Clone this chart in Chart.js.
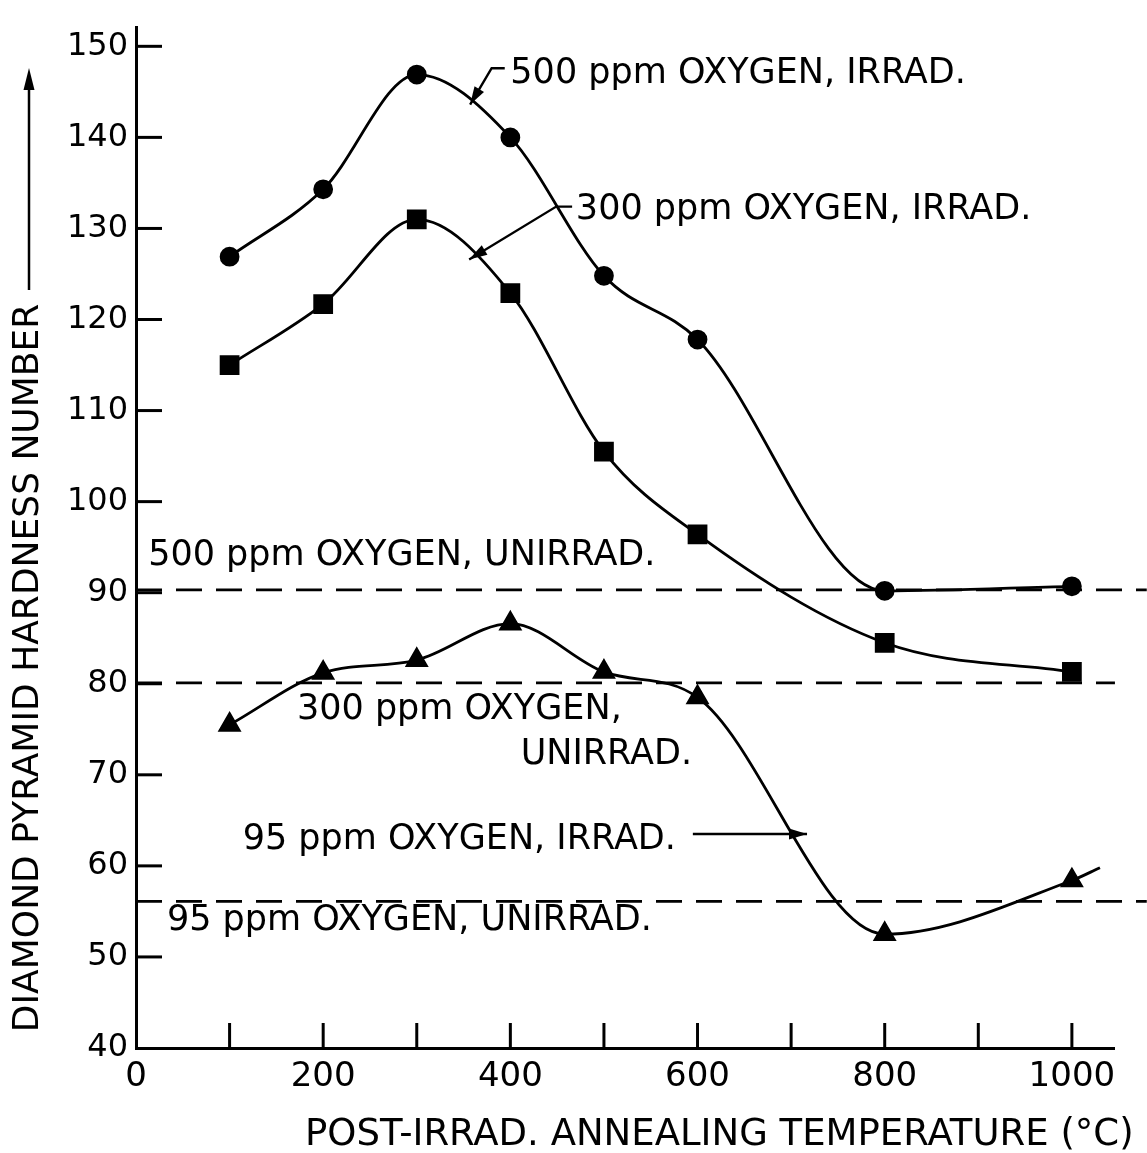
<!DOCTYPE html>
<html>
<head>
<meta charset="utf-8">
<title>Diamond Pyramid Hardness vs Annealing Temperature</title>
<script src="https://cdn.jsdelivr.net/npm/chart.js@4.4.0/dist/chart.umd.min.js"></script>
<style>
    html, body { margin: 0; padding: 0; background: #fff; }
    #wrap { width: 1147px; height: 1153px; position: relative; }
</style>
</head>
<body>
<div id="wrap"><canvas id="hardnessChart"></canvas></div>
<script>

/* =====================================
   DATA
===================================== */

const temps = [100, 200, 300, 400, 500, 600, 800, 1000];

const irrad500 = [126.9, 134.3, 146.9, 140.0, 124.8, 117.8, 90.2, 90.7];
const irrad300 = [115.0, 121.7, 131.0, 122.9, 105.5, 96.4, 84.5, 81.3];
const irrad95  = [75.5, 81.2, 82.6, 86.6, 81.3, 78.5, 52.5, 58.4];

// the 95 ppm curve runs on a little past its last point
const irrad95TailTemp = 1030;
const irrad95TailValue = 59.8;

// unirradiated reference levels (dashed)
const unirradValues = [90.3, 80.1, 56.1];
const unirradEndTemps = [1080, 1046, 1080];

const yTicks = [40, 50, 60, 70, 80, 90, 100, 110, 120, 130, 140, 150];
const xLabelTicks = [0, 200, 400, 600, 800, 1000];

/* =====================================
   ANNOTATIONS (data coordinates)
===================================== */

const notes = [
    { text: "500 ppm OXYGEN, IRRAD.",   x: 400, y: 146.0 },
    { text: "300 ppm OXYGEN, IRRAD.",   x: 470, y: 131.0 },
    { text: "500 ppm OXYGEN, UNIRRAD.", x: 13,  y: 93.0 },
    { text: "300 ppm OXYGEN,",          x: 172, y: 76.1 },
    { text: "UNIRRAD.",                 x: 411, y: 71.2 },
    { text: "95 ppm OXYGEN, IRRAD.",    x: 114, y: 61.9 },
    { text: "95 ppm OXYGEN, UNIRRAD.",  x: 33,  y: 53.0 }
];

const leaders = [
    [[394, 147.6], [380, 147.6], [357, 143.6]],
    [[466, 132.4], [449, 132.4], [356, 126.6]],
    [[595, 63.5], [717, 63.5]]
];

const FONT = "'DejaVu Sans', 'Liberation Sans', sans-serif";

/* =====================================
   EXTRA DRAWING
===================================== */

function arrowHead(ctx, from, to, len, half){

    const a = Math.atan2(to[1] - from[1], to[0] - from[0]);

    ctx.beginPath();
    ctx.moveTo(to[0], to[1]);
    ctx.lineTo(
        to[0] - len * Math.cos(a) + half * Math.sin(a),
        to[1] - len * Math.sin(a) - half * Math.cos(a)
    );
    ctx.lineTo(
        to[0] - len * Math.cos(a) - half * Math.sin(a),
        to[1] - len * Math.sin(a) + half * Math.cos(a)
    );
    ctx.closePath();
    ctx.fill();
}

const extras = {

    id: "extras",

    afterDatasetsDraw(chart){

        const ctx = chart.ctx;
        const xs = chart.scales.x;
        const ys = chart.scales.y;

        ctx.save();
        ctx.strokeStyle = "#000";
        ctx.fillStyle = "#000";
        ctx.lineWidth = 3;

        // inward tick marks
        xs.ticks.forEach(t => {
            if(t.value <= 0) return;
            const px = xs.getPixelForValue(t.value);
            ctx.beginPath();
            ctx.moveTo(px, ys.bottom);
            ctx.lineTo(px, ys.bottom - 25);
            ctx.stroke();
        });

        ys.ticks.forEach(t => {
            if(t.value <= 40) return;
            const py = ys.getPixelForValue(t.value);
            ctx.beginPath();
            ctx.moveTo(xs.left, py);
            ctx.lineTo(xs.left + 26, py);
            ctx.stroke();
        });

        // curve labels
        ctx.font = "35px " + FONT;
        ctx.textAlign = "left";
        ctx.textBaseline = "alphabetic";

        notes.forEach(n => {
            ctx.fillText(
                n.text,
                xs.getPixelForValue(n.x),
                ys.getPixelForValue(n.y)
            );
        });

        // leader lines with arrows
        ctx.lineWidth = 2.4;

        leaders.forEach(pts => {
            const p = pts.map(q => [xs.getPixelForValue(q[0]), ys.getPixelForValue(q[1])]);
            ctx.beginPath();
            ctx.moveTo(p[0][0], p[0][1]);
            for(let i = 1; i < p.length; i++){
                ctx.lineTo(p[i][0], p[i][1]);
            }
            ctx.stroke();
            arrowHead(ctx, p[p.length - 2], p[p.length - 1], 18, 5.5);
        });

        // axis titles
        ctx.font = "37px " + FONT;
        ctx.fillText("POST-IRRAD. ANNEALING TEMPERATURE (\u00B0C)", 305, 1145);

        ctx.save();
        ctx.translate(29, 668);
        ctx.rotate(-Math.PI / 2);
        ctx.font = "36px " + FONT;
        ctx.textAlign = "center";
        ctx.textBaseline = "middle";
        ctx.fillText("DIAMOND PYRAMID HARDNESS NUMBER", 0, 0);
        ctx.restore();

        // arrow above the y title
        ctx.lineWidth = 2.5;
        ctx.beginPath();
        ctx.moveTo(29, 290);
        ctx.lineTo(29, 85);
        ctx.stroke();
        arrowHead(ctx, [29, 290], [29, 68], 22, 5.5);

        ctx.restore();
    }
};

/* =====================================
   DATASETS
===================================== */

function toPoints(xv, yv){
    return xv.map((x, i) => ({ x: x, y: yv[i] }));
}

const curveStyle = {
    borderColor: "#000",
    backgroundColor: "#000",
    pointBackgroundColor: "#000",
    pointBorderColor: "#000",
    borderWidth: 2.8,
    cubicInterpolationMode: "monotone",
    fill: false
};

const datasets = [

    Object.assign({}, curveStyle, {
        label: "500 ppm OXYGEN, IRRAD.",
        data: toPoints(temps, irrad500),
        pointStyle: "circle",
        pointRadius: 8.5
    }),

    Object.assign({}, curveStyle, {
        label: "300 ppm OXYGEN, IRRAD.",
        data: toPoints(temps, irrad300),
        pointStyle: "rect",
        pointRadius: 12
    }),

    Object.assign({}, curveStyle, {
        label: "95 ppm OXYGEN, IRRAD.",
        data: toPoints(temps, irrad95).concat([{ x: irrad95TailTemp, y: irrad95TailValue }]),
        pointStyle: "triangle",
        pointRadius: temps.map(() => 11).concat([0])
    })
];

unirradValues.forEach((v, i) => {
    datasets.push({
        label: "unirrad " + i,
        data: [{ x: 0, y: v }, { x: unirradEndTemps[i], y: v }],
        borderColor: "#000",
        borderWidth: 2.8,
        borderDash: [26, 14],
        pointRadius: 0,
        tension: 0,
        clip: false
    });
});

/* =====================================
   CHART
===================================== */

new Chart(document.getElementById("hardnessChart"), {

    type: "line",

    data: { datasets: datasets },

    options: {

        responsive: true,
        maintainAspectRatio: false,
        animation: false,
        devicePixelRatio: 1,

        layout: {
            padding: { top: 13, right: 33, left: 0, bottom: 0 }
        },

        plugins: {
            legend: { display: false },
            tooltip: { enabled: false }
        },

        scales: {

            x: {
                type: "linear",
                min: 0,
                max: 1045,
                afterFit(scale){ scale.height = 105; },
                border: { display: true, color: "#000", width: 3 },
                grid: { display: true, drawOnChartArea: false, drawTicks: false },
                ticks: {
                    stepSize: 100,
                    includeBounds: false,
                    maxRotation: 0,
                    autoSkip: false,
                    padding: 9,
                    color: "#000",
                    font: { family: FONT, size: 34 },
                    callback: v => xLabelTicks.includes(v) ? String(v) : ""
                }
            },

            y: {
                type: "linear",
                min: 40,
                max: 152.1,
                afterFit(scale){ scale.width = 136; },
                border: { display: true, color: "#000", width: 3 },
                grid: { display: true, drawOnChartArea: false, drawTicks: false },
                ticks: {
                    stepSize: 10,
                    includeBounds: false,
                    autoSkip: false,
                    padding: 8,
                    color: "#000",
                    font: { family: FONT, size: 32 },
                    callback: v => yTicks.includes(v) ? String(v) : ""
                }
            }
        }
    },

    plugins: [extras]
});

</script>
</body>
</html>
